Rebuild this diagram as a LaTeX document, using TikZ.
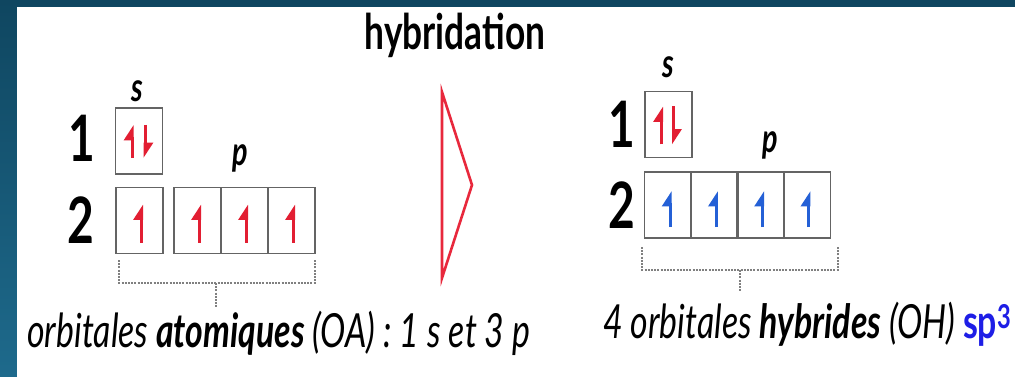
\documentclass[tikz,border=0pt]{standalone}
\usepackage{fontspec}
\setmainfont{Lato}[FakeStretch=0.72]
\usetikzlibrary{arrows.meta}
\definecolor{bgteal}{RGB}{15,70,96}
\definecolor{bgtealb}{RGB}{30,106,140}
\definecolor{boxgray}{RGB}{100,100,100}
\definecolor{spinred}{RGB}{226,30,50}
\definecolor{spinblue}{RGB}{36,96,214}
\definecolor{hybblue}{RGB}{30,30,230}
\definecolor{trired}{RGB}{232,40,60}

\begin{document}
\begin{tikzpicture}[x=1pt, y=-1pt,
    orb/.style={draw=boxgray, line width=1.6pt, minimum width=47pt, minimum height=66pt, inner sep=0pt},
    shellno/.style={font=\fontsize{64}{64}\selectfont\bfseries, inner sep=0pt, anchor=base},
    sublabel/.style={font=\fontsize{40}{40}\selectfont\bfseries\itshape, inner sep=0pt, anchor=base},
    spin/.style={line width=3pt, -{Triangle[left, length=13pt, width=16pt]}},
    brace/.style={draw=gray, line width=1.4pt, dash pattern=on 2pt off 1.2pt},
    caption/.style={font=\fontsize{47}{50}\selectfont\itshape, inner sep=0pt, anchor=base west}]

    % Rahmen
    \useasboundingbox (0,0) rectangle (1015,377);
    \shade[top color=bgteal, bottom color=bgtealb] (0,0) rectangle (1015,377);
    \fill[white] (17,7) rectangle (1015,377);

    % --- links: Atomorbitale ---
    \node[orb] (ls) at (139,141) {};
    \node[orb] (l2s) at (139.5,220.5) {};
    \node[orb] (l2px) at (197.5,220.5) {};
    \node[orb] (l2py) at (244.5,220.5) {};
    \node[orb] (l2pz) at (291.5,220.5) {};

    \node[shellno] (ln1) at (82,162) {1};
    \node[shellno] (ln2) at (81,243) {2};
    \node[sublabel] (lsl) at (137,102) {s};
    \node[sublabel] (lpl) at (240,166) {p};

    \draw[spin, spinred] ([shift={(-7,17)}]ls.center) -- ([shift={(-7,-16)}]ls.center);
    \draw[spin, spinred] ([shift={(6,-16)}]ls.center) -- ([shift={(6,17)}]ls.center);
    \draw[spin, spinred] ([shift={(2,22)}]l2s.center) -- ([shift={(2,-16)}]l2s.center);
    \draw[spin, spinred] ([shift={(2,22)}]l2px.center) -- ([shift={(2,-16)}]l2px.center);
    \draw[spin, spinred] ([shift={(2,22)}]l2py.center) -- ([shift={(2,-16)}]l2py.center);
    \draw[spin, spinred] ([shift={(2,22)}]l2pz.center) -- ([shift={(2,-16)}]l2pz.center);

    \coordinate (lbl) at (119,283);
    \coordinate (lbr) at (315,283);
    \coordinate (lbm) at (216,283);
    \coordinate (lbt) at (216,307);
    \draw[brace] (lbl) ++(0,-23) -- (lbl) -- (lbr) -- ++(0,-23);
    \draw[brace] (lbm) -- (lbt);

    \node[caption] (lcap) at (27,347) {orbitales \textbf{atomiques} (OA) : 1 s et 3 p};

    % --- Mitte: Hybridisierung ---
    \node[font=\fontsize{49}{52}\selectfont\bfseries, inner sep=0pt, anchor=base] (hyb) at (455,50) {hybridation};
    \draw[trired, line width=2.6pt] (442,92) -- (472,185) -- (442,278) -- cycle;

    % --- rechts: Hybridorbitale ---
    \node[orb] (rs) at (668.5,124.5) {};
    \node[orb] (rh1) at (668.1,205) {};
    \node[orb] (rh2) at (714.4,205) {};
    \node[orb] (rh3) at (760.6,205) {};
    \node[orb] (rh4) at (806.9,205) {};

    \node[shellno] (rn1) at (622,148) {1};
    \node[shellno] (rn2) at (622,228) {2};
    \node[sublabel] (rsl) at (668,78) {s};
    \node[sublabel] (rpl) at (770,153) {p};

    \draw[spin, spinred] ([shift={(-7,20)}]rs.center) -- ([shift={(-7,-18)}]rs.center);
    \draw[spin, spinred] ([shift={(5,-18)}]rs.center) -- ([shift={(5,20)}]rs.center);
    \draw[spin, spinblue] ([shift={(2,22)}]rh1.center) -- ([shift={(2,-14)}]rh1.center);
    \draw[spin, spinblue] ([shift={(2,22)}]rh2.center) -- ([shift={(2,-14)}]rh2.center);
    \draw[spin, spinblue] ([shift={(2,22)}]rh3.center) -- ([shift={(2,-14)}]rh3.center);
    \draw[spin, spinblue] ([shift={(2,22)}]rh4.center) -- ([shift={(2,-14)}]rh4.center);

    \coordinate (rbl) at (642,270);
    \coordinate (rbr) at (838,270);
    \coordinate (rbm) at (740,270);
    \coordinate (rbt) at (740,292);
    \draw[brace] (rbl) ++(0,-23) -- (rbl) -- (rbr) -- ++(0,-23);
    \draw[brace] (rbm) -- (rbt);

    \node[caption] (rcap) at (603,338) {4 orbitales \textbf{hybrides} (OH) {\upshape\bfseries\color{hybblue}sp\textsuperscript{3}}};

\end{tikzpicture}
\end{document}
